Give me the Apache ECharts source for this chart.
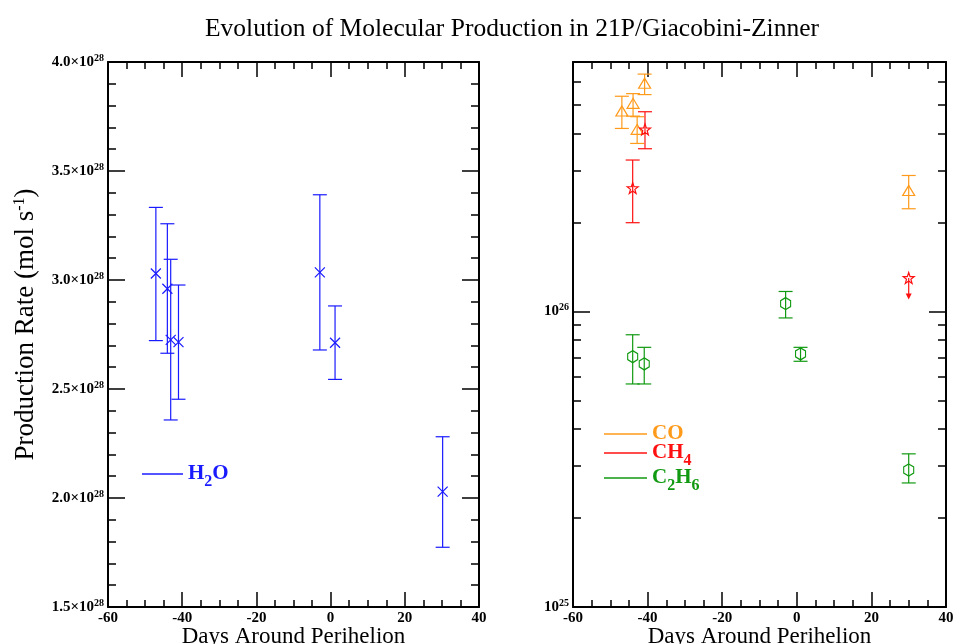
<!DOCTYPE html>
<html>
<head>
<meta charset="utf-8">
<title>Evolution of Molecular Production in 21P/Giacobini-Zinner</title>
<script src="https://cdn.jsdelivr.net/npm/echarts@6/dist/echarts.min.js"></script>
<style>
  html, body { margin: 0; padding: 0; background: #fff; }
  #chart { width: 955px; height: 644px; }
</style>
</head>
<body>
<div id="chart"></div>
<script>
  const SERIF = '"Liberation Serif", "DejaVu Serif", serif';

  // H2O (left panel), mol/s
  const h2oDays = [-47.1, -44.0, -43.1, -41.0, -2.9, 1.2, 30.2];
  const h2oRate = [3.03e28, 2.96e28, 2.725e28, 2.715e28, 3.035e28, 2.712e28, 2.029e28];
  const h2oLow  = [2.722e28, 2.664e28, 2.358e28, 2.453e28, 2.679e28, 2.544e28, 1.774e28];
  const h2oHigh = [3.333e28, 3.258e28, 3.095e28, 2.977e28, 3.391e28, 2.881e28, 2.281e28];

  // right panel, log scale
  const coDays = [-46.9, -43.9, -42.8, -40.8, 30.0];
  const coRate = [4.78e26, 5.07e26, 4.14e26, 5.93e26, 2.57e26];
  const coLow  = [4.17e26, 4.59e26, 3.71e26, 5.43e26, 2.23e26];
  const coHigh = [5.36e26, 5.47e26, 4.57e26, 6.37e26, 2.89e26];

  const ch4Days = [-44.0, -40.7];
  const ch4Rate = [2.62e26, 4.14e26];
  const ch4Low  = [2.0e26, 3.56e26];
  const ch4High = [3.26e26, 4.75e26];
  // upper limit at +30 d
  const ch4LimitDay = 30.0;
  const ch4LimitRate = 1.30e26;
  const ch4LimitArrowTo = 1.10e26;

  const c2h6Days = [-44.0, -40.9, -3.0, 1.0, 30.0];
  const c2h6Rate = [7.04e25, 6.65e25, 1.065e26, 7.19e25, 2.91e25];
  const c2h6Low  = [5.69e25, 5.69e25, 9.52e25, 6.79e25, 2.63e25];
  const c2h6High = [8.35e25, 7.57e25, 1.17e26, 7.57e25, 3.30e25];

  const logMin = 1e25;
  const logMax = 7e26;
  const logMinorTicks = [2e25, 3e25, 4e25, 5e25, 6e25, 7e25, 8e25, 9e25,
                         2e26, 3e26, 4e26, 5e26, 6e26];

  const BLUE = '#1a1aff';
  const ORANGE = '#ff9a1a';
  const RED = '#ff1010';
  const GREEN = '#119a11';

  const X_PATH = 'path://M0,0L10,10M10,0L0,10';
  const STAR_PATH = 'path://M10,0L12.35,6.76L19.51,6.91L13.8,11.24L15.88,18.09L10,14L4.12,18.09L6.2,11.24L0.49,6.91L7.65,6.76Z';
  const HEX_PATH = 'path://M5,0L10,3L10,9L5,12L0,9L0,3Z';

  const chart = echarts.init(document.getElementById('chart'));

  const tickLine = { color: '#000', width: 1.5 };
  const axisLine = { show: true, onZero: false, lineStyle: { color: '#000', width: 2 } };
  const labelRich = {
    b: { fontFamily: SERIF, fontWeight: 'bold', fontSize: 15, color: '#000', lineHeight: 18, verticalAlign: 'middle' },
    s: { fontFamily: SERIF, fontWeight: 'bold', fontSize: 10, color: '#000', lineHeight: 10, verticalAlign: 'top' }
  };

  function xAxisFor(gridIndex, top) {
    return {
      type: 'value', gridIndex: gridIndex, position: top ? 'top' : 'bottom',
      min: -60, max: 40, interval: 20,
      axisLine: axisLine,
      axisTick: { show: true, inside: true, length: 15, lineStyle: tickLine },
      minorTick: { show: true, splitNumber: 4, length: 7, lineStyle: tickLine },
      splitLine: { show: false },
      axisLabel: top ? { show: false } : {
        show: true, color: '#000', fontFamily: SERIF, fontWeight: 'bold', fontSize: 15, margin: 4
      },
      name: top ? '' : 'Days Around Perihelion',
      nameLocation: 'middle', nameGap: 18, nameMoveOverlap: false,
      nameTextStyle: { fontFamily: SERIF, fontSize: 23, color: '#000' }
    };
  }

  function linYAxis(right) {
    return {
      type: 'value', gridIndex: 0, position: right ? 'right' : 'left',
      min: 1.5e28, max: 4.0e28, interval: 0.5e28,
      axisLine: axisLine,
      axisTick: { show: true, inside: true, length: 17, lineStyle: tickLine },
      minorTick: { show: true, splitNumber: 5, length: 8, lineStyle: tickLine },
      splitLine: { show: false },
      axisLabel: right ? { show: false } : {
        show: true, margin: 4,
        formatter: function (v) { return '{b|' + (v / 1e28).toFixed(1) + '×10}{s|28}'; },
        rich: labelRich
      },
      name: right ? '' : '{n|Production Rate (mol s}{sup|-1}{n|)}',
      nameLocation: 'middle', nameGap: 68, nameRotate: 90, nameMoveOverlap: false,
      nameTextStyle: {
        padding: [0, 0, 0, 20],
        rich: {
          n: { fontFamily: SERIF, fontSize: 27, color: '#000', lineHeight: 28, verticalAlign: 'middle' },
          sup: { fontFamily: SERIF, fontSize: 16, color: '#000', lineHeight: 14, verticalAlign: 'top' }
        }
      }
    };
  }

  function logYAxis(right) {
    return {
      type: 'log', logBase: 10, gridIndex: 1, position: right ? 'right' : 'left',
      min: logMin, max: logMax,
      axisLine: axisLine,
      axisTick: { show: true, inside: true, length: 17, lineStyle: tickLine },
      minorTick: { show: false },
      splitLine: { show: false },
      axisLabel: right ? { show: false } : {
        show: true, margin: 4, showMaxLabel: false,
        formatter: function (v) {
          const e = Math.log10(v);
          if (Math.abs(e - Math.round(e)) > 1e-6) return '';
          return '{b|10}{s|' + Math.round(e) + '}';
        },
        rich: labelRich
      }
    };
  }

  function minorLogAxis(right) {
    return {
      type: 'value', gridIndex: 1, position: right ? 'right' : 'left',
      min: Math.log10(logMin), max: Math.log10(logMax),
      axisLine: { show: false, onZero: false },
      axisLabel: { show: false },
      splitLine: { show: false },
      axisTick: {
        show: true, inside: true, length: 8, lineStyle: tickLine,
        customValues: logMinorTicks.map(function (v) { return Math.log10(v); })
      }
    };
  }

  function errorBars(name, color, xi, yi, days, low, high) {
    return {
      type: 'custom', name: name + ' error', xAxisIndex: xi, yAxisIndex: yi,
      silent: true, z: 3,
      data: days.map(function (d, i) { return [d, low[i], high[i]]; }),
      encode: { x: 0, y: [1, 2] },
      renderItem: function (params, api) {
        const x = api.value(0);
        const hi = api.coord([x, api.value(2)]);
        const lo = api.coord([x, api.value(1)]);
        const cap = 7;
        const style = { stroke: color, lineWidth: 1.2 };
        return {
          type: 'group',
          children: [
            { type: 'line', shape: { x1: hi[0], y1: hi[1], x2: lo[0], y2: lo[1] }, style: style },
            { type: 'line', shape: { x1: hi[0] - cap, y1: hi[1], x2: hi[0] + cap, y2: hi[1] }, style: style },
            { type: 'line', shape: { x1: lo[0] - cap, y1: lo[1], x2: lo[0] + cap, y2: lo[1] }, style: style }
          ]
        };
      }
    };
  }

  function markers(name, color, xi, yi, days, rate, symbol, size) {
    return {
      type: 'scatter', name: name, xAxisIndex: xi, yAxisIndex: yi, z: 4,
      symbol: symbol, symbolSize: size,
      data: days.map(function (d, i) { return [d, rate[i]]; }),
      itemStyle: { color: 'rgba(0,0,0,0)', borderColor: color, borderWidth: 1.2, opacity: 1 },
      emphasis: { disabled: true }
    };
  }

  const legendRich = {
    t: { fontFamily: SERIF, fontWeight: 'bold', fontSize: 21, lineHeight: 22, verticalAlign: 'top' },
    sub: { fontFamily: SERIF, fontWeight: 'bold', fontSize: 16, lineHeight: 14, verticalAlign: 'top', padding: [11, 0, 0, 0] }
  };
  const legendLabels = {
    'H2O': '{t|H}{sub|2}{t|O}',
    'CO': '{t|CO}',
    'CH4': '{t|CH}{sub|4}',
    'C2H6': '{t|C}{sub|2}{t|H}{sub|6}'
  };
  function legendItem(name, color) {
    return { name: name, itemStyle: { color: color, borderWidth: 0 }, textStyle: { color: color } };
  }

  chart.setOption({
    backgroundColor: '#fff',
    animation: false,
    title: {
      text: 'Evolution of Molecular Production in 21P/Giacobini-Zinner',
      left: 507, top: 11, textAlign: 'center',
      textStyle: { fontFamily: SERIF, fontSize: 25.5, fontWeight: 'normal', color: '#000' }
    },
    legend: [
      {
        orient: 'vertical', left: 142, top: 463, icon: 'rect', padding: 0,
        itemWidth: 41, itemHeight: 1.5, itemGap: 0, selectedMode: false,
        data: [legendItem('H2O', BLUE)],
        formatter: function (n) { return legendLabels[n]; },
        textStyle: { rich: legendRich }
      },
      {
        orient: 'vertical', left: 604, top: 423, icon: 'rect', padding: 0,
        itemWidth: 43, itemHeight: 1.5, itemGap: -2, selectedMode: false,
        data: [legendItem('CO', ORANGE), legendItem('CH4', RED), legendItem('C2H6', GREEN)],
        formatter: function (n) { return legendLabels[n]; },
        textStyle: { rich: legendRich }
      }
    ],
    grid: [
      { left: 108, top: 62, width: 371, height: 545, outerBoundsMode: 'none' },
      { left: 573, top: 62, width: 373, height: 545, outerBoundsMode: 'none' }
    ],
    xAxis: [xAxisFor(0, false), xAxisFor(0, true), xAxisFor(1, false), xAxisFor(1, true)],
    yAxis: [linYAxis(false), linYAxis(true), logYAxis(false), logYAxis(true), minorLogAxis(false), minorLogAxis(true)],
    series: [
      errorBars('H2O', BLUE, 0, 0, h2oDays, h2oLow, h2oHigh),
      markers('H2O', BLUE, 0, 0, h2oDays, h2oRate, X_PATH, 10),

      errorBars('CO', ORANGE, 2, 2, coDays, coLow, coHigh),
      markers('CO', ORANGE, 2, 2, coDays, coRate, 'triangle', [12, 10]),

      errorBars('CH4', RED, 2, 2, ch4Days, ch4Low, ch4High),
      markers('CH4', RED, 2, 2, ch4Days.concat([ch4LimitDay]), ch4Rate.concat([ch4LimitRate]), STAR_PATH, 11),
      {
        type: 'custom', name: 'CH4 limit', xAxisIndex: 2, yAxisIndex: 2, silent: true, z: 3,
        data: [[ch4LimitDay, ch4LimitRate, ch4LimitArrowTo]],
        encode: { x: 0, y: [1, 2] },
        renderItem: function (params, api) {
          const x = api.value(0);
          const from = api.coord([x, api.value(1)]);
          const to = api.coord([x, api.value(2)]);
          return {
            type: 'group',
            children: [
              { type: 'line', shape: { x1: from[0], y1: from[1], x2: to[0], y2: to[1] - 4 }, style: { stroke: RED, lineWidth: 1.2 } },
              { type: 'polygon', shape: { points: [[to[0] - 3, to[1] - 6], [to[0] + 3, to[1] - 6], [to[0], to[1]]] }, style: { fill: RED } }
            ]
          };
        }
      },

      errorBars('C2H6', GREEN, 2, 2, c2h6Days, c2h6Low, c2h6High),
      markers('C2H6', GREEN, 2, 2, c2h6Days, c2h6Rate, HEX_PATH, [10, 12])
    ]
  });
</script>
</body>
</html>
